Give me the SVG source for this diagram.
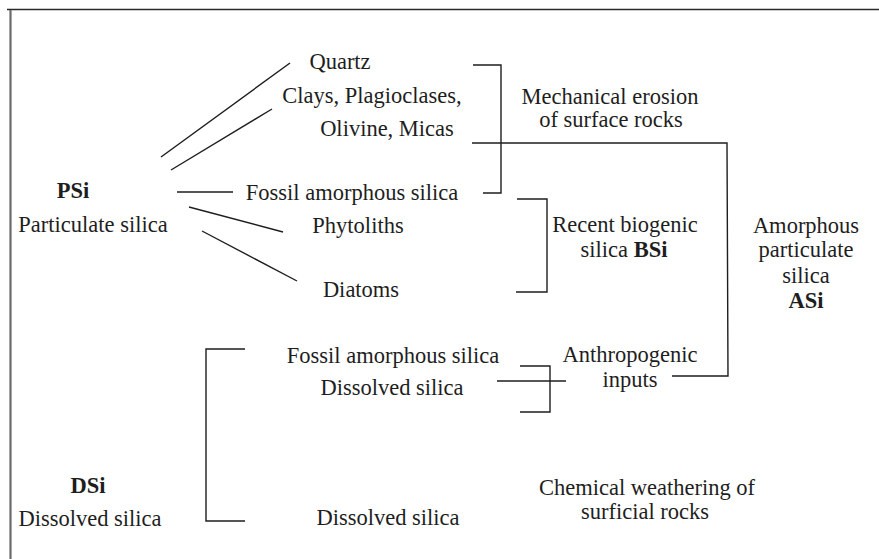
<svg xmlns="http://www.w3.org/2000/svg" width="879" height="559" viewBox="0 0 879 559">
<style>
text{font-family:"Liberation Serif","Times New Roman",serif;font-size:22.5px;fill:#1e1e1e;text-anchor:middle}
.b{font-weight:bold}
.ln{stroke:#1e1e1e;stroke-width:1.4;fill:none}
</style>
<rect width="879" height="559" fill="#fff"/>
<g id="frame">
<line x1="7" y1="9.5" x2="879" y2="9.5" stroke="#2a2a2a" stroke-width="1.6"/>
<line x1="10.5" y1="10" x2="10.5" y2="559" stroke="#6a6a6a" stroke-width="2.2"/>
</g>
<g id="connectors">
<line class="ln" x1="161" y1="157" x2="290" y2="63"/>
<line class="ln" x1="171" y1="170" x2="272" y2="109"/>
<line class="ln" x1="177" y1="192" x2="233" y2="192"/>
<line class="ln" x1="189" y1="207" x2="283" y2="232"/>
<line class="ln" x1="202" y1="231" x2="297" y2="281"/>
<polyline class="ln" points="473,65 501,65 501,193 483,193"/>
<polyline class="ln" points="472,143 727,143 728,376 672,376"/>
<polyline class="ln" points="517,199 547,199 547,292 516,292"/>
<polyline class="ln" points="520,366 550,366 550,412 520,412"/>
<line class="ln" x1="497" y1="381" x2="566" y2="381"/>
<polyline class="ln" points="245,349 206,349 206,521 245,521"/>
</g>
<g id="psi"><text class="b" x="73" y="198">PSi</text><text x="93" y="232">Particulate silica</text></g>
<g id="quartz"><text x="340" y="69">Quartz</text></g>
<g id="clays"><text x="372" y="103">Clays, Plagioclases,</text><text x="387" y="136">Olivine, Micas</text></g>
<g id="fossil1"><text x="352" y="200">Fossil amorphous silica</text></g>
<g id="phytoliths"><text x="358" y="233">Phytoliths</text></g>
<g id="diatoms"><text x="361" y="297">Diatoms</text></g>
<g id="mechanical"><text x="610" y="104">Mechanical erosion</text><text x="611" y="127">of surface rocks</text></g>
<g id="biogenic"><text x="625" y="232">Recent biogenic</text><text x="624" y="257">silica <tspan class="b">BSi</tspan></text></g>
<g id="asi"><text x="806" y="233">Amorphous</text><text x="806" y="257">particulate</text><text x="806" y="283">silica</text><text class="b" x="806" y="308">ASi</text></g>
<g id="anthropogenic"><text x="630" y="362">Anthropogenic</text><text x="630" y="387">inputs</text></g>
<g id="fossil2"><text x="393" y="363">Fossil amorphous silica</text></g>
<g id="dissolved1"><text x="392" y="395">Dissolved silica</text></g>
<g id="dsi"><text class="b" x="88" y="493">DSi</text><text x="90" y="526">Dissolved silica</text></g>
<g id="dissolved2"><text x="388" y="525">Dissolved silica</text></g>
<g id="chemical"><text x="647" y="495">Chemical weathering of</text><text x="645" y="519">surficial rocks</text></g>
</svg>
